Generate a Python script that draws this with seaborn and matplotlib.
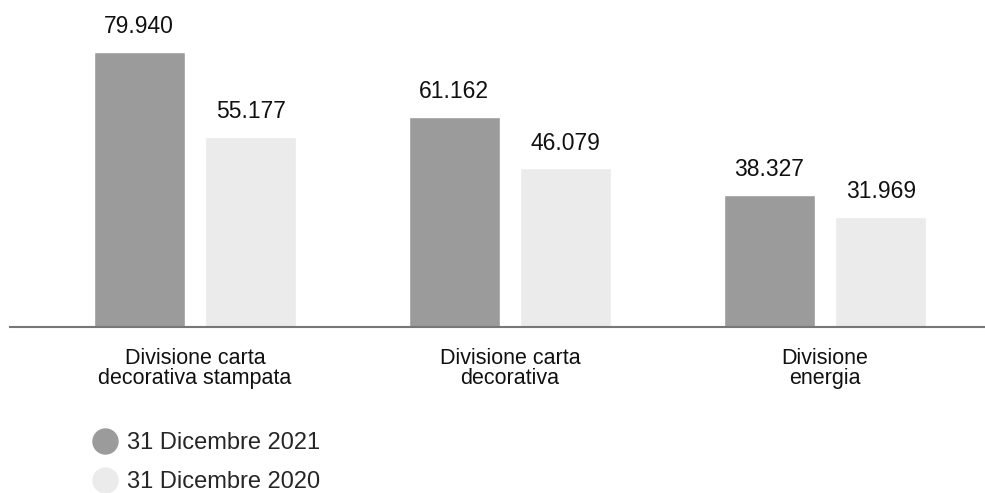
import pandas as pd
import matplotlib.pyplot as plt
import seaborn as sns
from matplotlib.lines import Line2D

# Data
divisions = ['Divisione carta\ndecorativa stampata', 'Divisione carta\ndecorativa', 'Divisione\nenergia']
years = ['31 Dicembre 2021', '31 Dicembre 2020']
values_2021 = [79.940, 61.162, 38.327]
values_2020 = [55.177, 46.079, 31.969]
colors = ['#9b9b9b', '#ebebeb']

df = pd.DataFrame({
    'Divisione': divisions * 2,
    'Anno': [years[0]] * 3 + [years[1]] * 3,
    'Valore': values_2021 + values_2020,
})

sns.set_style('white')
plt.rcParams['font.family'] = ['Liberation Sans', 'DejaVu Sans']

fig = plt.figure(figsize=(9.85, 4.93), dpi=100)
ax = fig.add_axes([10 / 985, 1 - 327 / 493, 975 / 985, 327 / 493])

sns.barplot(data=df, x='Divisione', y='Valore', hue='Anno', palette=colors,
            width=0.708, gap=0.184, ax=ax, legend=False, saturation=1)

for cont in ax.containers:
    ax.bar_label(cont, labels=[format(v, '.3f') for v in cont.datavalues],
                 padding=10, fontsize=16.5, color='#111111')

ax.set_ylim(0, 95.06)
ax.set_xlim(-0.587, 2.508)
ax.set_xlabel('')
ax.set_ylabel('')
ax.set_yticks([])
for s in ['top', 'right', 'left']:
    ax.spines[s].set_visible(False)
ax.spines['bottom'].set_color('#777777')
ax.spines['bottom'].set_linewidth(1.5)
ax.tick_params(axis='x', length=0, pad=15, labelsize=15.5, colors='#111111')
for t in ax.get_xticklabels():
    t.set_linespacing(0.92)

# legend with round markers below the plot
handles = [Line2D([0], [0], marker='o', linestyle='', markersize=18,
                  markerfacecolor=c, markeredgecolor=c) for c in colors]
fig.legend(handles, years, loc='upper left', bbox_to_anchor=(90 / 985, 1 - 432 / 493),
           frameon=False, fontsize=17, handletextpad=0.25, labelspacing=0.72,
           borderaxespad=0, borderpad=0, handlelength=1.3)

plt.savefig('out.png', dpi=100)
